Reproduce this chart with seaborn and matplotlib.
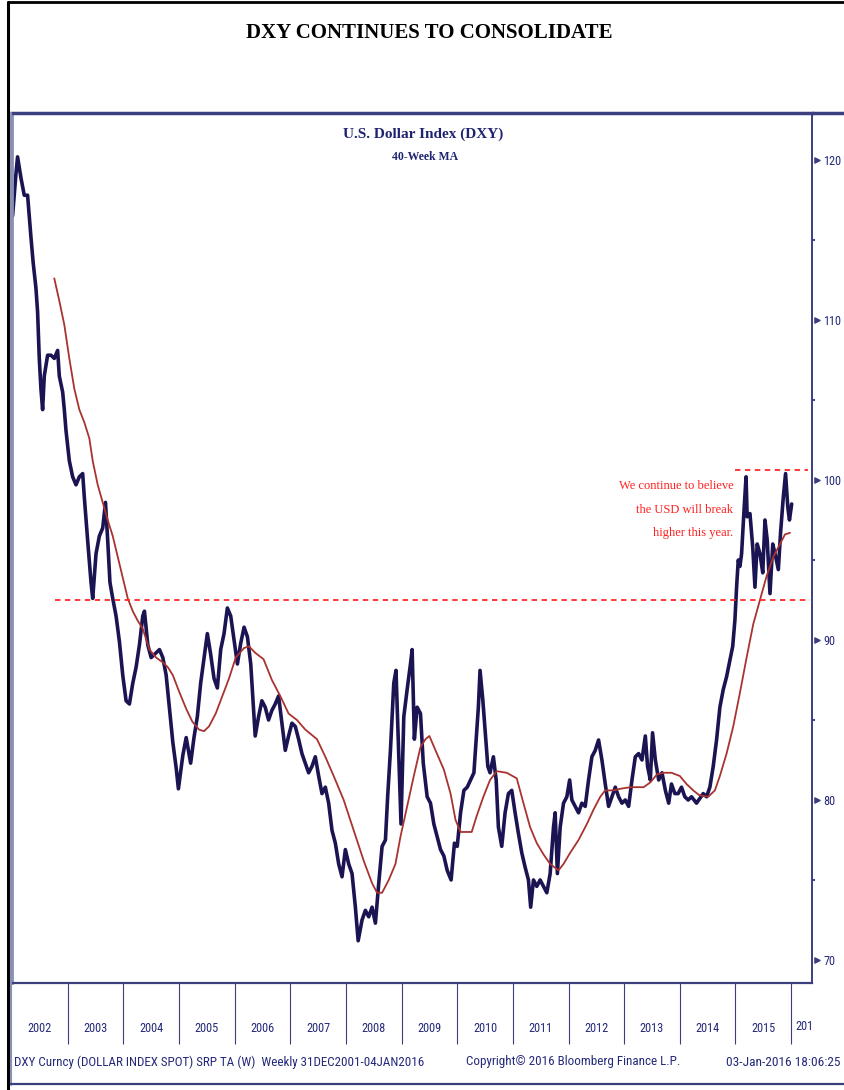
import numpy as np
import pandas as pd
import matplotlib
matplotlib.use("Agg")
import matplotlib.pyplot as plt
import seaborn as sns
from matplotlib.lines import Line2D
from matplotlib.transforms import Bbox, TransformedBbox

sns.set_theme(style="white")
plt.rcParams['font.family'] = ['DejaVu Sans']

# ---------------- data ----------------
price_t = [2002.01, 2002.07, 2002.10, 2002.16, 2002.22, 2002.28, 2002.34, 2002.38, 2002.43, 2002.46,
           2002.49, 2002.52, 2002.55, 2002.58, 2002.64, 2002.70, 2002.76, 2002.82, 2002.85, 2002.91,
           2002.94, 2002.97, 2003.03, 2003.09, 2003.15, 2003.21, 2003.27, 2003.30, 2003.36, 2003.42,
           2003.45, 2003.51, 2003.57, 2003.63, 2003.68, 2003.72, 2003.76, 2003.81, 2003.87, 2003.93,
           2003.99, 2004.05, 2004.11, 2004.17, 2004.23, 2004.29, 2004.35, 2004.38, 2004.44, 2004.50,
           2004.56, 2004.65, 2004.71, 2004.77, 2004.83, 2004.89, 2004.95, 2004.99, 2005.07, 2005.13,
           2005.21, 2005.27, 2005.33, 2005.39, 2005.46, 2005.51, 2005.57, 2005.63, 2005.69, 2005.75,
           2005.81, 2005.87, 2005.93, 2005.99, 2006.05, 2006.11, 2006.17, 2006.23, 2006.29, 2006.35,
           2006.37, 2006.43, 2006.49, 2006.55, 2006.61, 2006.67, 2006.73, 2006.79, 2006.85, 2006.91,
           2006.97, 2007.03, 2007.09, 2007.15, 2007.21, 2007.27, 2007.33, 2007.39, 2007.45, 2007.51,
           2007.57, 2007.63, 2007.69, 2007.75, 2007.81, 2007.87, 2007.93, 2007.99, 2008.05, 2008.11,
           2008.17, 2008.22, 2008.29, 2008.35, 2008.41, 2008.47, 2008.53, 2008.59, 2008.65, 2008.71,
           2008.75, 2008.80, 2008.86, 2008.90, 2008.95, 2008.99, 2009.04, 2009.10, 2009.16, 2009.19,
           2009.23, 2009.28, 2009.34, 2009.39, 2009.46, 2009.52, 2009.58, 2009.64, 2009.70, 2009.76,
           2009.82, 2009.89, 2009.95, 2010.00, 2010.06, 2010.12, 2010.18, 2010.24, 2010.30, 2010.34,
           2010.38, 2010.41, 2010.46, 2010.50, 2010.55, 2010.59, 2010.65, 2010.70, 2010.74, 2010.80,
           2010.86, 2010.92, 2010.98, 2011.04, 2011.10, 2011.16, 2011.22, 2011.28, 2011.32, 2011.37,
           2011.43, 2011.49, 2011.55, 2011.61, 2011.67, 2011.73, 2011.76, 2011.80, 2011.85, 2011.91,
           2011.97, 2012.02, 2012.06, 2012.12, 2012.18, 2012.24, 2012.30, 2012.36, 2012.42, 2012.48,
           2012.54, 2012.60, 2012.66, 2012.72, 2012.78, 2012.84, 2012.90, 2012.96, 2013.02, 2013.08,
           2013.14, 2013.20, 2013.26, 2013.32, 2013.38, 2013.42, 2013.47, 2013.51, 2013.56, 2013.62,
           2013.68, 2013.74, 2013.80, 2013.85, 2013.91, 2013.97, 2014.03, 2014.09, 2014.15, 2014.21,
           2014.30, 2014.42, 2014.48, 2014.54, 2014.60, 2014.66, 2014.72, 2014.78, 2014.84, 2014.90,
           2014.95, 2014.99, 2015.02, 2015.05, 2015.08, 2015.11, 2015.15, 2015.19, 2015.21, 2015.26,
           2015.31, 2015.35, 2015.39, 2015.44, 2015.49, 2015.53, 2015.57, 2015.62, 2015.67, 2015.71,
           2015.77, 2015.81, 2015.86, 2015.90, 2015.94, 2015.97, 2016.01]
price_v = [116.5, 119.1, 120.2, 118.9, 117.8, 117.8, 115.2, 113.6, 112.0, 110.5,
           107.6, 105.7, 104.4, 106.5, 107.8, 107.8, 107.6, 108.1, 106.5, 105.5,
           104.4, 103.1, 101.2, 100.2, 99.7, 100.2, 100.4, 98.9, 96.2, 93.6,
           92.6, 95.4, 96.5, 97.0, 98.6, 96.2, 93.6, 92.6, 91.5, 89.9,
           87.8, 86.2, 86.0, 87.3, 88.3, 89.7, 91.5, 91.8, 89.7, 88.9,
           89.1, 89.4, 88.9, 87.8, 85.7, 83.6, 82.0, 80.7, 82.8, 83.9,
           82.3, 83.9, 85.2, 87.3, 89.1, 90.4, 89.1, 87.6, 87.0, 89.4,
           90.4, 92.0, 91.5, 90.0, 88.5, 89.8, 90.8, 90.2, 88.5, 85.2,
           84.0, 85.2, 86.2, 85.8, 85.0, 85.6, 86.0, 86.5, 84.8, 83.1,
           84.0, 84.8, 84.6, 83.8, 82.9, 82.3, 81.7, 82.1, 82.7, 81.5,
           80.4, 80.8, 79.8, 78.1, 77.3, 76.0, 75.2, 76.9, 76.0, 75.4,
           73.3, 71.2, 72.5, 73.1, 72.7, 73.3, 72.3, 74.8, 77.1, 77.5,
           80.2, 83.1, 87.3, 88.1, 82.7, 78.5, 85.2, 86.9, 88.5, 89.4,
           83.8, 85.8, 85.4, 82.3, 80.2, 79.8, 78.5, 77.7, 76.9, 76.5,
           75.6, 75.0, 77.3, 77.1, 79.2, 80.6, 80.8, 81.25, 81.7, 83.75,
           85.8, 88.1, 86.25, 84.4, 82.1, 81.7, 82.7, 81.25, 78.3, 77.1,
           79.2, 80.4, 80.6, 79.2, 77.9, 76.7, 75.8, 75.0, 73.3, 75.0,
           74.6, 75.0, 74.6, 74.2, 75.4, 78.3, 79.2, 75.4, 78.3, 79.8,
           80.2, 81.25, 80.0, 79.6, 79.2, 79.8, 79.6, 81.25, 82.7, 83.1,
           83.75, 82.5, 81.0, 79.6, 80.2, 80.8, 80.2, 79.8, 80.0, 79.6,
           81.25, 82.7, 82.9, 82.5, 84.0, 82.1, 81.25, 84.2, 82.5, 81.25,
           81.7, 80.6, 79.8, 81.0, 80.4, 80.4, 80.8, 80.2, 80.0, 80.2,
           79.8, 80.4, 80.2, 80.8, 82.1, 83.75, 85.8, 86.9, 87.7, 88.75,
           89.6, 91.25, 93.3, 95.0, 94.6, 95.4, 97.9, 100.2, 97.7, 97.9,
           95.8, 93.3, 96.0, 95.4, 94.2, 97.5, 96.25, 92.9, 96.0, 95.4,
           94.4, 96.7, 98.96, 100.4, 98.3, 97.5, 98.5]

ma_t = [2002.76, 2002.85, 2002.94, 2003.03, 2003.12, 2003.21, 2003.30, 2003.39, 2003.45, 2003.54,
        2003.63, 2003.72, 2003.81, 2003.90, 2003.99, 2004.08, 2004.17, 2004.26, 2004.35, 2004.47,
        2004.59, 2004.71, 2004.80, 2004.89, 2005.00, 2005.13, 2005.24, 2005.36, 2005.45, 2005.54,
        2005.66, 2005.78, 2005.90, 2006.02, 2006.17, 2006.26, 2006.37, 2006.52, 2006.67, 2006.82,
        2006.97, 2007.12, 2007.27, 2007.48, 2007.63, 2007.78, 2007.96, 2008.14, 2008.32, 2008.47,
        2008.56, 2008.65, 2008.77, 2008.89, 2008.98, 2009.10, 2009.22, 2009.34, 2009.43, 2009.50,
        2009.61, 2009.76, 2009.88, 2009.97, 2010.06, 2010.26, 2010.35, 2010.47, 2010.59, 2010.71,
        2010.89, 2011.07, 2011.19, 2011.31, 2011.43, 2011.55, 2011.67, 2011.82, 2011.91, 2012.03,
        2012.18, 2012.33, 2012.45, 2012.57, 2012.66, 2012.81, 2012.93, 2013.11, 2013.35, 2013.47,
        2013.59, 2013.71, 2013.85, 2014.00, 2014.12, 2014.24, 2014.35, 2014.51, 2014.63, 2014.72,
        2014.84, 2014.96, 2015.08, 2015.20, 2015.32, 2015.44, 2015.56, 2015.68, 2015.80, 2015.89,
        2015.98]
ma_v = [112.6, 111.2, 109.7, 107.6, 105.7, 104.4, 103.6, 102.6, 101.2, 99.7,
        98.6, 97.5, 96.5, 95.2, 93.9, 92.6, 91.8, 91.2, 90.7, 89.4,
        88.9, 88.6, 88.3, 87.8, 86.8, 85.7, 84.9, 84.4, 84.3, 84.6,
        85.4, 86.5, 87.6, 88.9, 89.5, 89.6, 89.2, 88.8, 87.5, 86.5,
        85.4, 85.0, 84.4, 83.8, 82.7, 81.5, 80.0, 78.1, 76.2, 74.8,
        74.2, 74.2, 75.0, 76.0, 77.7, 79.6, 81.5, 83.3, 83.8, 84.0,
        83.1, 81.9, 80.4, 78.75, 78.0, 78.0, 79.0, 80.2, 81.25, 81.8,
        81.7, 81.35, 79.8, 78.3, 77.3, 76.6, 76.0, 75.6, 76.0, 76.7,
        77.5, 78.5, 79.4, 80.2, 80.6, 80.6, 80.7, 80.8, 80.8, 81.1,
        81.6, 81.7, 81.7, 81.5, 81.0, 80.6, 80.3, 80.2, 80.6, 81.5,
        82.9, 84.6, 86.7, 88.9, 91.0, 92.5, 94.0, 95.2, 96.0, 96.6,
        96.7]

year_starts = list(range(2003, 2017))
year_labels = [str(y) for y in range(2002, 2017)]
y_major = [70, 80, 90, 100, 110, 120]
y_minor = [75, 85, 95, 105, 115]
support_level = 92.5
support_span = [2002.77, 2016.34]
resistance_level = 100.6
resistance_span = [2014.99, 2016.30]

title = "DXY CONTINUES TO CONSOLIDATE"
chart_title = "U.S. Dollar Index (DXY)"
chart_subtitle = "40-Week MA"
note = "We continue to believe\nthe USD will break\nhigher this year."
footer_left = "DXY Curncy (DOLLAR INDEX SPOT) SRP TA (W)  Weekly 31DEC2001-04JAN2016"
footer_mid = "Copyright\u00a9 2016 Bloomberg Finance L.P."
footer_right = "03-Jan-2016 18:06:25"

# ---------------- styling ----------------
NAVY = "#1b1452"
TXT = "#24297a"
MA_RED = "#a8332f"
DASH_RED = "#ff2b2b"
FRAME = "#3b3f7e"
SERIF = ['Liberation Serif', 'DejaVu Serif']
NARROW = ['Roboto Condensed', 'Open Sans Condensed', 'DejaVu Sans']

W, H = 845, 1090
fig = plt.figure(figsize=(W / 100, H / 100), dpi=100)
fig.patch.set_facecolor("white")


def fx(x):
    return x / W


def fy(y):
    return 1 - y / H


ax = fig.add_axes([fx(12), fy(983), (812 - 12) / W, (983 - 113) / H])
ax.set_facecolor("white")

df_price = pd.DataFrame({"t": price_t, "v": price_v})
df_ma = pd.DataFrame({"t": ma_t, "v": ma_v})
sns.lineplot(data=df_price, x="t", y="v", ax=ax, color=NAVY, lw=2.6,
             estimator=None, sort=False, legend=False)
sns.lineplot(data=df_ma, x="t", y="v", ax=ax, color=MA_RED, lw=1.3,
             estimator=None, sort=False, legend=False)

ax.hlines(support_level, support_span[0], support_span[1], colors=DASH_RED,
          linestyles=(0, (3, 2.5)), lw=1.3)
ax.hlines(resistance_level, resistance_span[0], resistance_span[1], colors=DASH_RED,
          linestyles=(0, (3, 2.5)), lw=1.3)

ax.set_xlim(2002.0, 2016.375)
ax.set_ylim(68.56, 122.94)
ax.set_xlabel("")
ax.set_ylabel("")

# spines
for side, (c, lw) in {"top": (FRAME, 2.5), "left": ("#8a90b4", 2.0),
                      "right": (FRAME, 1.4), "bottom": (FRAME, 1.6)}.items():
    ax.spines[side].set_visible(True)
    ax.spines[side].set_color(c)
    ax.spines[side].set_linewidth(lw)

# x axis: separators at year starts, labels centred in each year
ax.set_xticks(year_starts)
ax.set_xticklabels([])
ax.set_xticks([y + 0.5 for y in range(2002, 2016)], minor=True)
ax.set_xticklabels(year_labels[:-1], minor=True)
ax.tick_params(axis="x", which="major", direction="out", length=44, width=0.8,
               color=FRAME, bottom=True)
ax.tick_params(axis="x", which="minor", length=0, pad=28, labelsize=8.8,
               labelcolor=TXT, bottom=True)
for lab in ax.get_xticklabels(minor=True):
    lab.set_family(NARROW)

last = ax.text(2016.30, -0.05, year_labels[-1], transform=ax.get_xaxis_transform(),
               ha="center", va="center", fontsize=8.8, color=TXT, family=NARROW)
last.set_clip_box(TransformedBbox(Bbox([[0, -0.2], [1, 1]]), ax.transAxes))
last.set_clip_on(True)

# y axis on the right
ax.yaxis.tick_right()
ax.set_yticks(y_major)
ax.set_yticks(y_minor, minor=True)
ax.set_yticklabels([str(v) for v in y_major])
ax.tick_params(axis="y", which="major", length=0, pad=8, labelsize=8.8,
               labelcolor=TXT, right=True, left=False)
ax.tick_params(axis="y", which="minor", direction="out", length=2, width=1.4,
               color=FRAME, right=True, left=False)
for lab in ax.get_yticklabels():
    lab.set_family(NARROW)
ax.scatter([1.006] * len(y_major), y_major, marker=">", s=14, color=FRAME,
           transform=ax.get_yaxis_transform(), clip_on=False, zorder=5)

# chart titles and note
ax.text(0.514, 0.976, chart_title, transform=ax.transAxes, ha="center", va="center",
        fontsize=11, fontweight="bold", color="#1f2470", family=SERIF)
ax.text(0.516, 0.95, chart_subtitle, transform=ax.transAxes, ha="center", va="center",
        fontsize=8.5, fontweight="bold", color="#1f2470", family=SERIF)
ax.text(2014.96, 98.15, note, ha="right", va="center", fontsize=9, color="#ff2020",
        family=SERIF, linespacing=2.25)

# figure title
fig.text(fx(429), fy(33), title, ha="center", va="center", fontsize=15,
         fontweight="bold", color="black", family=SERIF)

# footer
fig.text(fx(14), fy(1062), footer_left, ha="left", va="center", fontsize=9.4, color=TXT, family=NARROW)
fig.text(fx(466), fy(1062), footer_mid, ha="left", va="center", fontsize=9.4, color=TXT, family=NARROW)
fig.text(fx(841), fy(1062), footer_right, ha="right", va="center", fontsize=9.6, color=TXT, family=NARROW)

# outer frame lines
fig.add_artist(Line2D([fx(8), fx(8)], [fy(2), fy(1090)], color="black", lw=2.2))
fig.add_artist(Line2D([fx(8), fx(845)], [fy(2), fy(2)], color="black", lw=2.0))
fig.add_artist(Line2D([fx(11), fx(11)], [fy(113), fy(1085)], color="#8a90b4", lw=1.5))
fig.add_artist(Line2D([fx(11), fx(845)], [fy(1084), fy(1084)], color=FRAME, lw=1.6))
fig.add_artist(Line2D([fx(812), fx(845)], [fy(113), fy(113)], color=FRAME, lw=2.5))

fig.savefig("out.png", dpi=100, facecolor="white")
